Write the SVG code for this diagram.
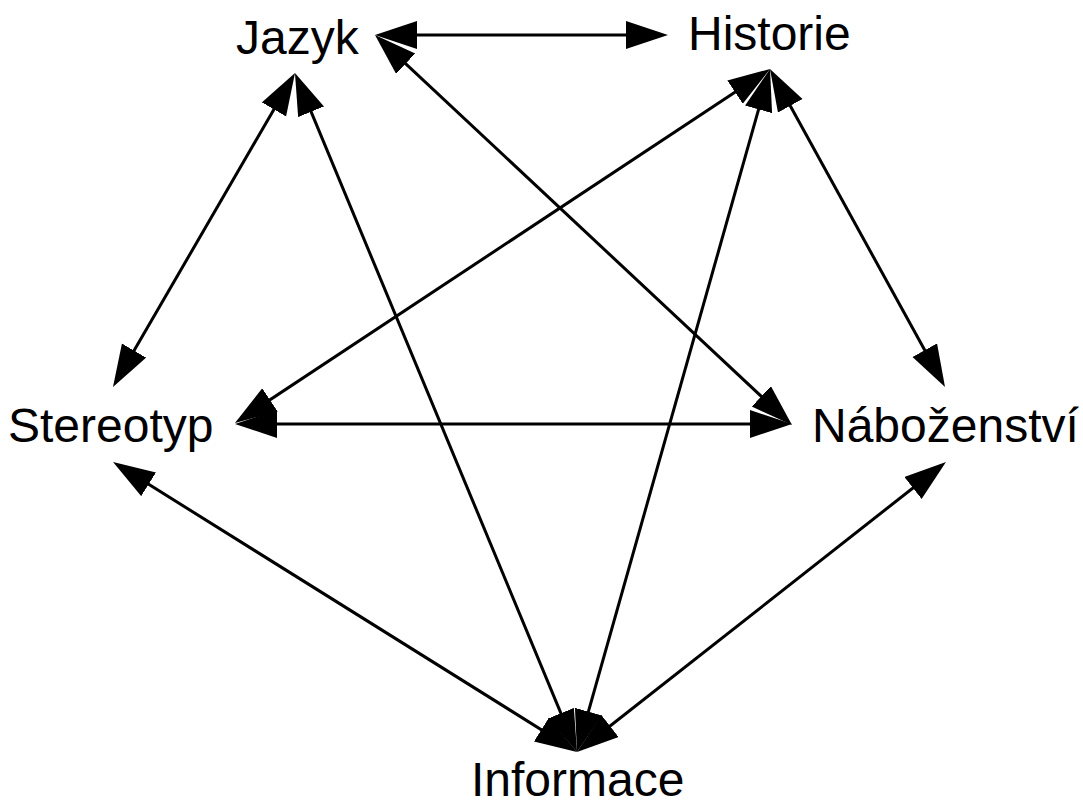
<svg xmlns="http://www.w3.org/2000/svg" width="1083" height="807" viewBox="0 0 1083 807">
<style>
.lbl{font-family:"Liberation Sans",Arial,sans-serif;font-size:48px;fill:#000}
.edge{stroke:#000;stroke-width:3;fill:none;marker-start:url(#ah);marker-end:url(#ah)}
</style>
<defs>
<marker id="ah" markerUnits="userSpaceOnUse" markerWidth="44" markerHeight="30" refX="32" refY="14" orient="auto-start-reverse" viewBox="0 0 44 30">
<path d="M0,0 L42,14 L0,28 z" fill="#000"/>
</marker>
</defs>
<rect width="1083" height="807" fill="#fff"/>
<g id="connectors">
<line class="edge" x1="385" y1="35" x2="658" y2="35"/>
<line class="edge" x1="290" y1="81.7" x2="118" y2="378.3"/>
<line class="edge" x1="382.3" y1="41.8" x2="784.7" y2="418.2"/>
<line class="edge" x1="298.8" y1="82.2" x2="573.2" y2="742.8"/>
<line class="edge" x1="761.7" y1="74.5" x2="243.3" y2="417.5"/>
<line class="edge" x1="774.8" y1="77.8" x2="940.2" y2="378.2"/>
<line class="edge" x1="767.3" y1="78.6" x2="579.7" y2="742.4"/>
<line class="edge" x1="245" y1="424" x2="782" y2="424"/>
<line class="edge" x1="121.5" y1="467.3" x2="568.5" y2="746.7"/>
<line class="edge" x1="938.1" y1="468.2" x2="584.9" y2="745.8"/>
</g>
<g id="node-jazyk"><text class="lbl" x="236" y="54">Jazyk</text></g>
<g id="node-historie"><text class="lbl" x="688" y="50">Historie</text></g>
<g id="node-stereotyp"><text class="lbl" x="8" y="442">Stereotyp</text></g>
<g id="node-nabozenstvi"><text class="lbl" x="812" y="442">Náboženství</text></g>
<g id="node-informace"><text class="lbl" x="471" y="796">Informace</text></g>
</svg>
